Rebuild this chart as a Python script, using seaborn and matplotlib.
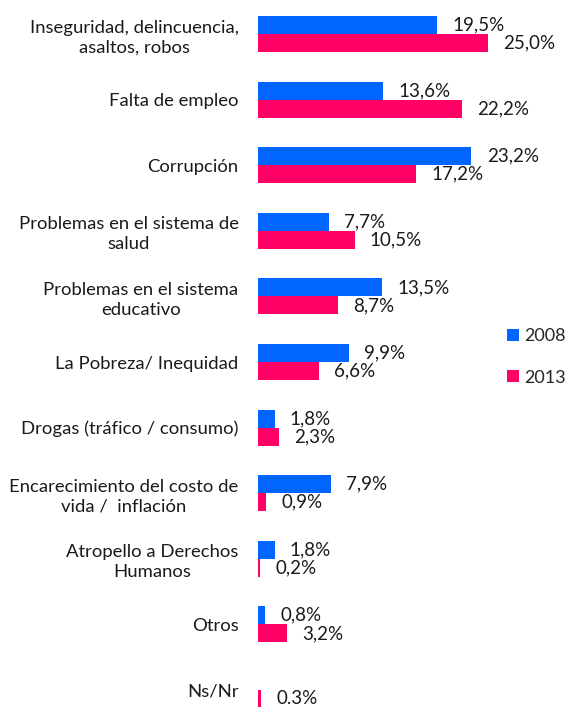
import numpy as np
import pandas as pd
import seaborn as sns
import matplotlib.pyplot as plt

categories = [
    'Inseguridad, delincuencia,\nasaltos, robos',
    'Falta de empleo',
    'Corrupción',
    'Problemas en el sistema de\nsalud',
    'Problemas en el sistema\neducativo',
    'La Pobreza/ Inequidad',
    'Drogas (tráfico / consumo)',
    'Encarecimiento del costo de\nvida /  inflación',
    'Atropello a Derechos\nHumanos',
    'Otros',
    'Ns/Nr',
]
# Ns/Nr has no value for 2008
values_2008 = [19.5, 13.6, 23.2, 7.7, 13.5, 9.9, 1.8, 7.9, 1.8, 0.8, 0.0]
values_2013 = [25.0, 22.2, 17.2, 10.5, 8.7, 6.6, 2.3, 0.9, 0.2, 3.2, 0.3]
labels_2008 = ['19,5%', '13,6%', '23,2%', '7,7%', '13,5%', '9,9%', '1,8%', '7,9%', '1,8%', '0,8%', '']
labels_2013 = ['25,0%', '22,2%', '17,2%', '10,5%', '8,7%', '6,6%', '2,3%', '0,9%', '0,2%', '3,2%', '0.3%']
years = ['2008', '2013']
colors = ['#0066FF', '#FF0066']

df = pd.DataFrame({
    'categoria': categories * 2,
    'valor': values_2008 + values_2013,
    'anio': [years[0]] * len(categories) + [years[1]] * len(categories),
})

sns.set_style('white')
plt.rcParams['font.family'] = ['Lato', 'DejaVu Sans']

fig = plt.figure(figsize=(5.68, 7.07), dpi=100)
ax = fig.add_axes([258 / 568, 0, 242 / 568, 1])

sns.barplot(data=df, y='categoria', x='valor', hue='anio', orient='h',
            palette=colors, width=0.55, ax=ax, saturation=1, linewidth=0)

for cont, labs in zip(ax.containers, [labels_2008, labels_2013]):
    ax.bar_label(cont, labels=labs, padding=11, fontsize=13.5, color='#1a1a1a')

ax.set_xlim(0, 242 / 9.2)
ax.set_ylim(10.26, -0.52)
ax.set_xlabel('')
ax.set_ylabel('')
ax.set_xticks([])
ax.tick_params(axis='y', length=0, pad=14, labelsize=13.3, labelcolor='#1a1a1a')
for lab in ax.get_yticklabels():
    lab.set_multialignment('center')
    lab.set_linespacing(1.3)
sns.despine(ax=ax, left=True, bottom=True)

ax.legend(loc='center left', bbox_to_anchor=((507 - 258) / 242, 0.495),
          frameon=False, fontsize=13, borderaxespad=0, borderpad=0,
          handlelength=0.65, handleheight=0.65, labelspacing=1.4, handletextpad=0.3)

plt.savefig('out.png', dpi=100)
